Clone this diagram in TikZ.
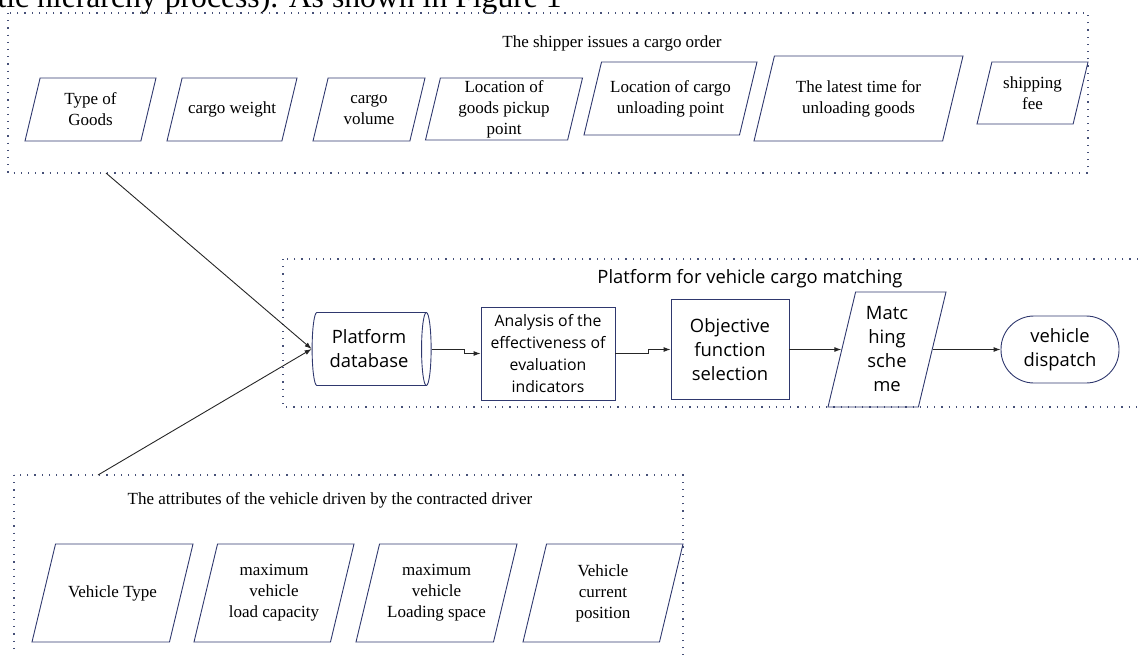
\documentclass[tikz,border=0pt]{standalone}
\usepackage{fontspec}
\setmainfont{Liberation Serif}
\setsansfont{Open Sans}
\usepackage{tikz}
\usetikzlibrary{shapes.geometric,arrows.meta}
\definecolor{navy}{RGB}{47,56,110}
\definecolor{dotgrey}{RGB}{70,80,120}

\begin{document}
\begin{tikzpicture}[x=1pt,y=-1pt,
  data/.style={trapezium,trapezium left angle=76.5,trapezium right angle=103.5,trapezium stretches body,draw=navy,line width=0.9pt,inner xsep=0pt},
  datatext/.style={align=center,font=\fontsize{17}{21}\selectfont},
  sanstext/.style={align=center,font=\sffamily\fontsize{18.4}{24}\selectfont},
  box/.style={rectangle,draw=navy,line width=0.9pt,inner sep=0pt,sanstext},
  group/.style={draw=dotgrey,line width=1.2pt,dash pattern=on 1.2pt off 6pt},
  link/.style={draw=black!85,line width=0.9pt,-{Latex[length=7pt,width=5pt]}}]
\clip (0,0) rectangle (1140,655);
\node [anchor=base east,inner sep=0pt,font=\fontsize{31.7}{38}\selectfont] (caption) at (562,8) {analytic hierarchy process). As shown in Figure 1};

\draw [group] (8,13) rectangle (1088,173);
\node [datatext] (ordertitle) at (612,43) {The shipper issues a cargo order};
\node [data,minimum width=131,inner ysep=31.5,label={[datatext,name=goodstext]center:Type of\\Goods}] (goods) at (90.5,109.5) {};
\node [data,minimum width=130,inner ysep=31.5,label={[datatext,name=weighttext]center:cargo weight}] (weight) at (232,109.5) {};
\node [data,minimum width=112,inner ysep=31.5,label={[datatext,name=volumetext]center:cargo\\volume}] (volume) at (369,109.5) {};
\node [data,minimum width=157,inner ysep=31,label={[datatext,name=pickuptext]center:Location of\\goods pickup\\point}] (pickup) at (504,109) {};
\node [data,minimum width=173,inner ysep=36.5,label={[datatext,name=unloadtext]center:Location of cargo\\unloading point}] (unload) at (670.5,98.5) {};
\node [data,minimum width=209,inner ysep=42.5,label={[datatext,name=latesttext]center:The latest time for\\unloading goods}] (latest) at (858.5,98.5) {};
\node [data,minimum width=111,inner ysep=31,label={[datatext,name=feetext]center:shipping\\fee}] (fee) at (1032.5,93) {};

\draw [group] (283,259) rectangle (1160,407);
\node [sanstext] (platformtitle) at (750,279) {Platform for vehicle cargo matching};
\node [cylinder,draw=navy,line width=0.9pt,aspect=0.25,minimum width=73,minimum height=119,inner sep=0pt,sanstext] (db) at (369,349) {Platform\\database};
\node [box,minimum width=134,minimum height=93,font=\sffamily\fontsize{15.8}{22}\selectfont] (ana) at (548,353.5) {Analysis of the\\effectiveness of\\evaluation\\indicators};
\node [box,minimum width=118,minimum height=100] (obj) at (730,349.5) {Objective\\function\\selection};
\node [data,minimum width=118,inner ysep=57.5,label={[sanstext,name=matchtext]center:Matc\\hing\\sche\\me}] (match) at (887,349.5) {};
\node [box,rounded corners=33pt,minimum width=118,minimum height=67] (disp) at (1060,349.5) {vehicle\\dispatch};

\draw [group] (14,475) rectangle (683,670);
\node [datatext] (drivertitle) at (330,500) {The attributes of the vehicle driven by the contracted driver};
\node [data,minimum width=161,inner ysep=49,label={[datatext,name=vtypetext]center:Vehicle Type}] (vtype) at (112.5,593) {};
\node [data,minimum width=160,inner ysep=49,label={[datatext,name=loadtext]center:maximum\\vehicle\\load capacity}] (load) at (274,593) {};
\node [data,minimum width=161,inner ysep=49,label={[datatext,name=spacetext]center:maximum\\vehicle\\Loading space}] (space) at (436.5,593) {};
\node [data,minimum width=160,inner ysep=49,label={[datatext,name=positiontext]center:Vehicle\\current\\position}] (position) at (603,593) {};

\coordinate (orderfoot) at (106,173);
\coordinate (driverhead) at (98,475);
\draw [link] (orderfoot) -- (db.west);
\draw [link] (driverhead) -- (db.west);
\draw [link] (db.east) -- ++(33,0) |- (ana.west);
\draw [link] (ana.east) -- ++(33,0) |- (obj.west);
\draw [link] (obj.east) -- (match.west);
\draw [link] (match.east) -- (disp.west);
\end{tikzpicture}
\end{document}
